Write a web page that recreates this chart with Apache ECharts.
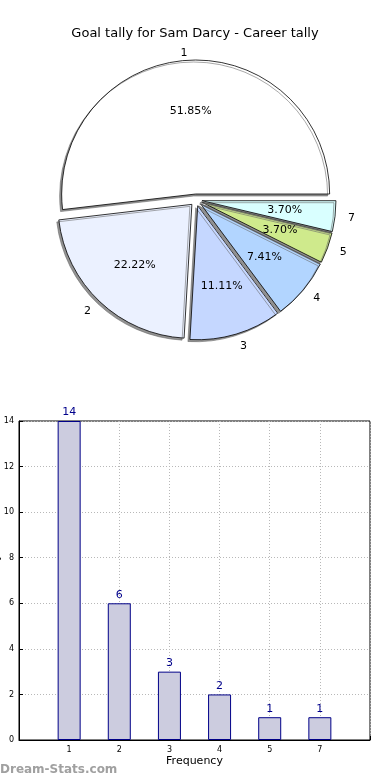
<!DOCTYPE html>
<html>
<head>
<meta charset="utf-8">
<script src="https://cdn.jsdelivr.net/npm/echarts@6/dist/echarts.min.js"></script>
<style>
html,body{margin:0;padding:0;background:#fff;}
#c{width:390px;height:780px;}
</style>
</head>
<body>
<div id="c"></div>
<script>
// ---- data ----
var titleText = 'Goal tally for Sam Darcy - Career tally';
var categories = ['1', '2', '3', '4', '5', '7'];
var counts = [14, 6, 3, 2, 1, 1];
var percentLabels = ['51.85%', '22.22%', '11.11%', '7.41%', '3.70%', '3.70%'];
var sliceColors = ['#ffffff', '#ebf1ff', '#c5d7ff', '#b2d5ff', '#cfea8c', '#d9ffff'];
var yTicks = [0, 2, 4, 6, 8, 10, 12, 14];
var xAxisName = 'Frequency';
var yAxisName = 'Goal Tally';
var watermark = 'Dream-Stats.com';

var FONT = 'DejaVu Sans';
var R = 134;
var center = [196, 200];

var pieData = categories.map(function (c, i) {
  var d = { name: c, value: counts[i], selected: true, itemStyle: { color: sliceColors[i] } };
  if (i === 0) d.labelLine = { length: 7 };
  return d;
});
var pctData = categories.map(function (c, i) {
  return { name: percentLabels[i], value: counts[i], selected: true };
});

var xCats = [''].concat(categories).concat(['']);
var barData = [null].concat(counts).concat([null]);

var chart = echarts.init(document.getElementById('c'), null, { renderer: 'canvas' });
chart.setOption({
  animation: false,
  backgroundColor: '#ffffff',
  textStyle: { fontFamily: FONT },
  title: {
    text: titleText,
    left: 'center',
    top: 22,
    textStyle: { fontFamily: FONT, fontSize: 13, fontWeight: 'normal', color: '#000' }
  },
  graphic: [{
    type: 'text',
    left: 0,
    top: 764,
    style: { text: watermark, fontFamily: FONT, fontSize: 12, fontWeight: 'bold', fill: '#a0a0a0' }
  }],
  grid: {
    left: 19, right: 20, top: 421, bottom: 40,
    containLabel: false,
    outerBoundsMode: 'none',
    show: true, borderColor: '#000', borderWidth: 1, backgroundColor: 'transparent'
  },
  xAxis: {
    type: 'category',
    data: xCats,
    boundaryGap: false,
    name: xAxisName,
    nameLocation: 'middle',
    nameGap: 16,
    nameMoveOverlap: false,
    nameTextStyle: { fontFamily: FONT, fontSize: 11, color: '#000' },
    axisLine: { show: true, lineStyle: { color: '#000' } },
    axisTick: { show: true, inside: true, length: 4, lineStyle: { color: '#000' } },
    axisLabel: { fontFamily: FONT, fontSize: 8, color: '#000', margin: 6, interval: 0 },
    splitLine: { show: true, lineStyle: { color: '#b8b8b8', type: [1, 2], width: 1 } }
  },
  yAxis: {
    type: 'value',
    min: yTicks[0],
    max: yTicks[yTicks.length - 1],
    interval: 2,
    name: yAxisName,
    nameLocation: 'middle',
    nameGap: 17,
    nameMoveOverlap: false,
    nameTextStyle: { fontFamily: FONT, fontSize: 11, color: '#000' },
    axisLine: { show: true, lineStyle: { color: '#000' } },
    axisTick: { show: true, inside: true, length: 4, lineStyle: { color: '#000' } },
    axisLabel: { fontFamily: FONT, fontSize: 8, color: '#000', margin: 5 },
    splitLine: { show: true, lineStyle: { color: '#b8b8b8', type: [1, 2], width: 1 } }
  },
  series: [
    {
      type: 'pie',
      center: center,
      radius: [0, R],
      startAngle: 0,
      clockwise: false,
      selectedMode: 'multiple',
      selectedOffset: 6,
      avoidLabelOverlap: false,
      data: pieData,
      itemStyle: {
        borderColor: '#000', borderWidth: 0.8,
        shadowColor: 'rgba(100,100,100,0.7)', shadowBlur: 0, shadowOffsetX: -2, shadowOffsetY: 2
      },
      label: {
        show: true, position: 'outside', fontFamily: FONT, fontSize: 11, color: '#000',
        formatter: '{b}', distanceToLabelLine: 0
      },
      labelLine: { show: false, length: 13, length2: 0 },
      emphasis: { disabled: true },
      silent: true,
      z: 2
    },
    {
      type: 'pie',
      center: center,
      radius: [0, R * 1.2],
      startAngle: 0,
      clockwise: false,
      selectedMode: 'multiple',
      selectedOffset: 6,
      avoidLabelOverlap: false,
      data: pctData,
      itemStyle: { color: 'rgba(0,0,0,0)', borderWidth: 0 },
      label: { show: true, position: 'inner', fontFamily: FONT, fontSize: 11, color: '#000', formatter: '{b}' },
      labelLine: { show: false },
      emphasis: { disabled: true },
      silent: true,
      z: 3
    },
    {
      type: 'bar',
      data: barData,
      barWidth: 23,
      itemStyle: { color: '#ccccdf', borderColor: '#000088', borderWidth: 1 },
      label: { show: true, position: 'top', distance: 3, fontFamily: FONT, fontSize: 11, color: '#00008b' },
      silent: true,
      z: 2
    }
  ]
});
</script>
</body>
</html>
